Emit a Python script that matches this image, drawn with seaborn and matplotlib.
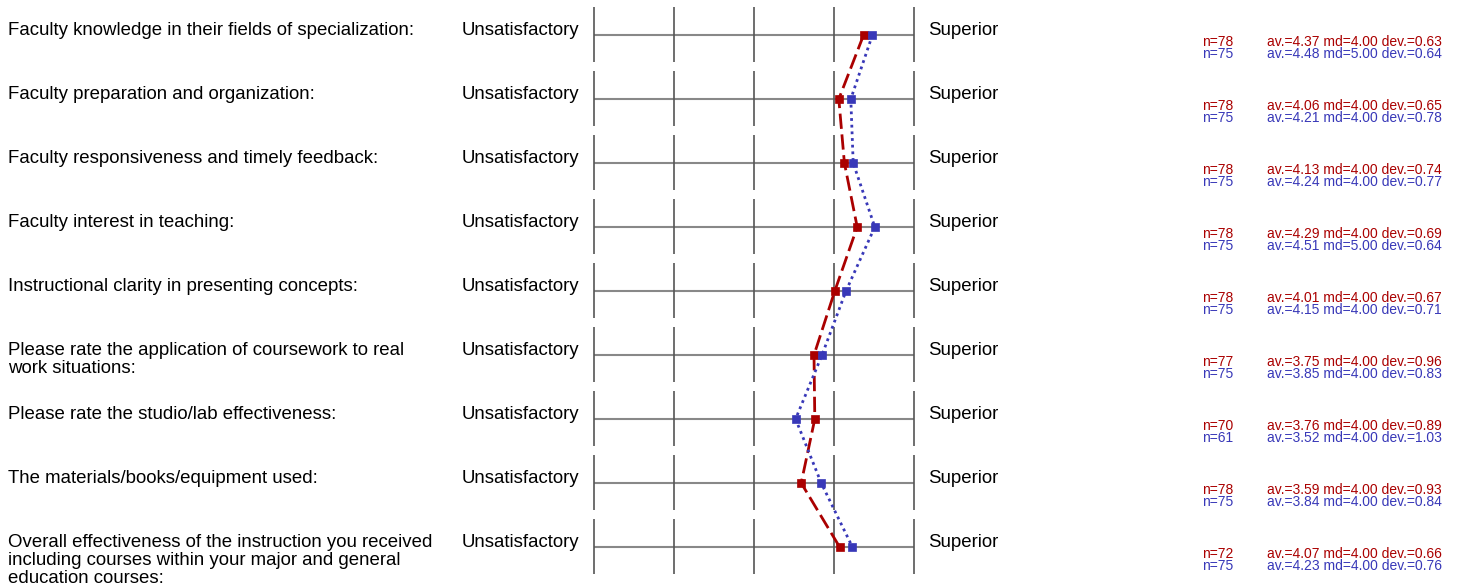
import matplotlib
matplotlib.use('Agg')
import matplotlib.pyplot as plt
import matplotlib.transforms as mtransforms
import seaborn as sns
import numpy as np

# Fragen
questions = [
    'Faculty knowledge in their fields of specialization:',
    'Faculty preparation and organization:',
    'Faculty responsiveness and timely feedback:',
    'Faculty interest in teaching:',
    'Instructional clarity in presenting concepts:',
    'Please rate the application of coursework to real\nwork situations:',
    'Please rate the studio/lab effectiveness:',
    'The materials/books/equipment used:',
    'Overall effectiveness of the instruction you received\nincluding courses within your major and general\neducation courses:',
]
left_pole = 'Unsatisfactory'
right_pole = 'Superior'
scale_points = [1, 2, 3, 4, 5]

# Gruppe 1 (rot)
n_red = [78, 78, 78, 78, 78, 77, 70, 78, 72]
av_red = [4.37, 4.06, 4.13, 4.29, 4.01, 3.75, 3.76, 3.59, 4.07]
md_red = [4.00, 4.00, 4.00, 4.00, 4.00, 4.00, 4.00, 4.00, 4.00]
dev_red = [0.63, 0.65, 0.74, 0.69, 0.67, 0.96, 0.89, 0.93, 0.66]

# Gruppe 2 (blau)
n_blue = [75, 75, 75, 75, 75, 75, 61, 75, 75]
av_blue = [4.48, 4.21, 4.24, 4.51, 4.15, 3.85, 3.52, 3.84, 4.23]
md_blue = [5.00, 4.00, 4.00, 5.00, 4.00, 4.00, 4.00, 4.00, 4.00]
dev_blue = [0.64, 0.78, 0.77, 0.64, 0.71, 0.83, 1.03, 0.84, 0.76]

RED = '#aa0000'
BLUE = '#3838b8'

W, H = 1471, 586
ROW0, STEP = 35, 64  # pixel centre of first row, row pitch

plt.rcParams['font.family'] = ['Liberation Sans', 'DejaVu Sans']

fig = plt.figure(figsize=(W / 100, H / 100), dpi=100)
fig.patch.set_facecolor('white')
ax = fig.add_axes([594 / W, 0, 320 / W, 1])
ax.set_xlim(1, 5)
ax.set_ylim((H - ROW0) / STEP, -ROW0 / STEP)
ax.axis('off')

rows = np.arange(len(questions))
px = 1 / STEP  # one pixel in y data units

# Raster
for i in rows:
    ax.hlines(i, 1, 5, color='#888888', lw=1.5, clip_on=False, zorder=1)
    ax.vlines(scale_points, i - 28 * px, i + 27 * px, color='#555555', lw=1.2,
              clip_on=False, zorder=1)

# Profillinien
sns.lineplot(x=av_red, y=rows, orient='y', ax=ax, color=RED, lw=2,
             linestyle=(0, (5.5, 2)), marker='s', markersize=6,
             markeredgecolor=RED, markeredgewidth=0.5, clip_on=False, zorder=3)
sns.lineplot(x=av_blue, y=rows, orient='y', ax=ax, color=BLUE, lw=2,
             linestyle=(0, (1, 1.4)), marker='s', markersize=6,
             markeredgecolor=BLUE, markeredgewidth=0.5, clip_on=False, zorder=4)

trans = mtransforms.blended_transform_factory(fig.transFigure, ax.transData)
for i in rows:
    ax.text(8 / W, i - 13 * px, questions[i], transform=trans, fontsize=13.4,
            va='top', ha='left', linespacing=1.06)
    ax.text(462 / W, i - 13 * px, left_pole, transform=trans, fontsize=13.4,
            va='top', ha='left')
    ax.text(928 / W, i - 13 * px, right_pole, transform=trans, fontsize=13.4,
            va='top', ha='left')
    ax.text(1202 / W, i + 6.5 * px, f'n={n_red[i]}', transform=trans,
            fontsize=10, color=RED, va='center', ha='left')
    ax.text(1267 / W, i + 6.5 * px,
            f'av.={av_red[i]:.2f} md={md_red[i]:.2f} dev.={dev_red[i]:.2f}',
            transform=trans, fontsize=10, color=RED, va='center', ha='left')
    ax.text(1202 / W, i + 18.5 * px, f'n={n_blue[i]}', transform=trans,
            fontsize=10, color=BLUE, va='center', ha='left')
    ax.text(1267 / W, i + 18.5 * px,
            f'av.={av_blue[i]:.2f} md={md_blue[i]:.2f} dev.={dev_blue[i]:.2f}',
            transform=trans, fontsize=10, color=BLUE, va='center', ha='left')

fig.savefig('out.png', dpi=100)
